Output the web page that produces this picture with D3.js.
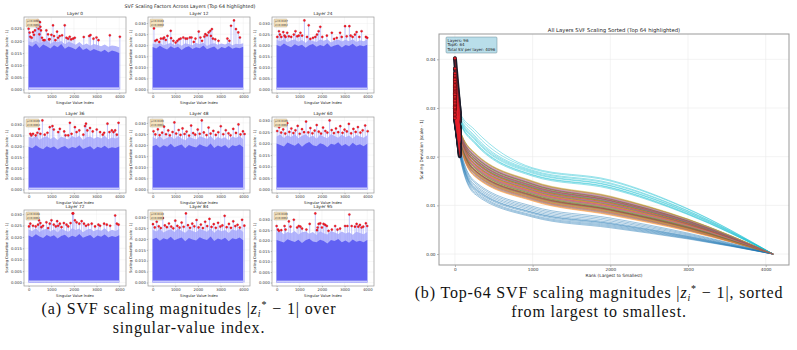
<!DOCTYPE html>
<html>
<head>
<meta charset="utf-8">
<script src="https://cdn.jsdelivr.net/npm/d3@7"></script>
<style>
  body { margin: 0; background: #fff; }
  svg { display: block; }
</style>
</head>
<body>
<svg id="fig" width="797" height="350"></svg>
<script>
// ---------- (a) per-layer scaling deviation, 3x3 grid ----------
var layerIds = [0, 12, 24, 36, 48, 60, 72, 84, 95];
var layerMean = [0.0098, 0.0104, 0.0107, 0.0109, 0.0106, 0.0105, 0.0108, 0.0110, 0.0106];
var layerStd = [0.0058, 0.0060, 0.0062, 0.0063, 0.0061, 0.0061, 0.0062, 0.0063, 0.0062];

// solid band top and light haze top, one value every 160 singular values
var binStep = 160;
var bandCore = [
  [0.0183,0.0176,0.0189,0.0171,0.0185,0.0178,0.0169,0.0182,0.0174,0.0187,0.0168,0.0177,0.0172,0.0165,0.0179,0.0163,0.0170,0.0158,0.0167,0.0161,0.0155,0.0164,0.0152,0.0160,0.0156,0.0150],
  [0.0192,0.0185,0.0198,0.0188,0.0181,0.0195,0.0187,0.0193,0.0179,0.0190,0.0196,0.0183,0.0191,0.0186,0.0199,0.0182,0.0189,0.0194,0.0180,0.0192,0.0187,0.0197,0.0184,0.0190,0.0186,0.0193],
  [0.0203,0.0196,0.0209,0.0199,0.0192,0.0206,0.0198,0.0204,0.0190,0.0201,0.0207,0.0194,0.0202,0.0197,0.0210,0.0193,0.0200,0.0205,0.0191,0.0203,0.0198,0.0208,0.0195,0.0201,0.0197,0.0204],
  [0.0198,0.0191,0.0205,0.0194,0.0187,0.0201,0.0193,0.0199,0.0185,0.0196,0.0202,0.0189,0.0197,0.0192,0.0205,0.0188,0.0195,0.0200,0.0186,0.0198,0.0193,0.0203,0.0190,0.0196,0.0192,0.0199],
  [0.0195,0.0202,0.0188,0.0199,0.0193,0.0206,0.0190,0.0197,0.0203,0.0186,0.0200,0.0194,0.0189,0.0204,0.0196,0.0191,0.0207,0.0187,0.0198,0.0192,0.0201,0.0185,0.0199,0.0195,0.0203,0.0190],
  [0.0201,0.0194,0.0188,0.0205,0.0197,0.0191,0.0203,0.0186,0.0199,0.0207,0.0193,0.0189,0.0202,0.0196,0.0184,0.0200,0.0195,0.0206,0.0190,0.0198,0.0187,0.0204,0.0192,0.0197,0.0189,0.0200],
  [0.0206,0.0199,0.0212,0.0202,0.0195,0.0209,0.0201,0.0207,0.0193,0.0204,0.0210,0.0197,0.0205,0.0200,0.0213,0.0196,0.0203,0.0208,0.0194,0.0206,0.0201,0.0211,0.0198,0.0204,0.0200,0.0207],
  [0.0199,0.0206,0.0192,0.0203,0.0197,0.0210,0.0194,0.0201,0.0207,0.0190,0.0204,0.0198,0.0193,0.0208,0.0200,0.0195,0.0211,0.0191,0.0202,0.0196,0.0205,0.0189,0.0203,0.0199,0.0207,0.0194],
  [0.0203,0.0197,0.0191,0.0207,0.0200,0.0194,0.0205,0.0189,0.0202,0.0209,0.0196,0.0192,0.0204,0.0198,0.0187,0.0203,0.0199,0.0208,0.0193,0.0201,0.0190,0.0206,0.0195,0.0200,0.0192,0.0203]
];
var bandPeak = [
  [0.0199,0.0193,0.0201,0.0190,0.0197,0.0202,0.0188,0.0198,0.0194,0.0200,0.0186,0.0196,0.0191,0.0184,0.0195,0.0182,0.0189,0.0180,0.0187,0.0183,0.0178,0.0185,0.0176,0.0181,0.0179,0.0174],
  [0.0208,0.0203,0.0211,0.0199,0.0206,0.0210,0.0201,0.0207,0.0198,0.0209,0.0204,0.0200,0.0210,0.0205,0.0211,0.0197,0.0206,0.0209,0.0202,0.0208,0.0203,0.0211,0.0200,0.0207,0.0204,0.0209],
  [0.0226,0.0219,0.0229,0.0215,0.0224,0.0228,0.0217,0.0225,0.0213,0.0227,0.0221,0.0216,0.0228,0.0222,0.0229,0.0214,0.0223,0.0227,0.0218,0.0226,0.0220,0.0229,0.0216,0.0224,0.0219,0.0227],
  [0.0244,0.0236,0.0249,0.0231,0.0241,0.0247,0.0234,0.0243,0.0229,0.0246,0.0238,0.0232,0.0248,0.0240,0.0249,0.0230,0.0242,0.0246,0.0235,0.0244,0.0237,0.0249,0.0233,0.0241,0.0236,0.0245],
  [0.0236,0.0228,0.0241,0.0224,0.0233,0.0239,0.0226,0.0242,0.0230,0.0222,0.0238,0.0231,0.0225,0.0240,0.0234,0.0227,0.0242,0.0223,0.0237,0.0229,0.0235,0.0221,0.0239,0.0232,0.0241,0.0226],
  [0.0231,0.0240,0.0225,0.0237,0.0229,0.0242,0.0223,0.0234,0.0241,0.0227,0.0236,0.0221,0.0239,0.0230,0.0224,0.0242,0.0233,0.0226,0.0240,0.0228,0.0235,0.0222,0.0238,0.0231,0.0226,0.0237],
  [0.0233,0.0226,0.0238,0.0222,0.0231,0.0236,0.0224,0.0234,0.0220,0.0237,0.0228,0.0223,0.0238,0.0230,0.0237,0.0221,0.0232,0.0236,0.0225,0.0233,0.0227,0.0238,0.0223,0.0231,0.0226,0.0235],
  [0.0242,0.0234,0.0247,0.0230,0.0239,0.0245,0.0232,0.0248,0.0236,0.0228,0.0244,0.0237,0.0231,0.0246,0.0240,0.0233,0.0248,0.0229,0.0243,0.0235,0.0241,0.0227,0.0245,0.0238,0.0247,0.0232],
  [0.0238,0.0245,0.0231,0.0242,0.0235,0.0246,0.0229,0.0240,0.0244,0.0233,0.0241,0.0227,0.0245,0.0236,0.0230,0.0246,0.0239,0.0232,0.0244,0.0234,0.0240,0.0228,0.0243,0.0237,0.0231,0.0242]
];

// highlighted largest deviations: [singular value index, |scale - 1|]
var topPoints = [
  [[0,0.0250],[44,0.0234],[74,0.0217],[133,0.0213],[192,0.0236],[236,0.0225],[280,0.0243],[339,0.0261],[384,0.0284],[443,0.0250],[472,0.0227],[502,0.0277],[517,0.0258],[546,0.0243],[590,0.0213],[649,0.0203],[708,0.0203],[782,0.0243],[856,0.0227],[900,0.0206],[930,0.0207],[1004,0.0225],[1077,0.0264],[1122,0.0220],[1181,0.0203],[1255,0.0238],[1299,0.0213],[1373,0.0220],[1476,0.0223],[1594,0.0264],[1668,0.0213],[1742,0.0209],[1815,0.0217],[1875,0.0206],[1963,0.0209],[2037,0.0213],[2435,0.0216],[2672,0.0220],[2731,0.0224],[2863,0.0209],[2996,0.0214],[3085,0.0203],[3587,0.0223],[4030,0.0217]],
  [[58,0.0276],[116,0.0220],[189,0.0224],[291,0.0215],[364,0.0230],[465,0.0230],[509,0.0235],[582,0.0224],[655,0.0242],[800,0.0265],[815,0.0232],[916,0.0220],[1018,0.0212],[1091,0.0220],[1164,0.0227],[1236,0.0230],[1353,0.0235],[1455,0.0230],[1527,0.0230],[1644,0.0235],[1716,0.0235],[1818,0.0215],[1891,0.0230],[2036,0.0262],[2109,0.0235],[2182,0.0220],[2284,0.0239],[2327,0.0250],[2400,0.0245],[2473,0.0258],[2545,0.0265],[2575,0.0242],[2618,0.0273],[2662,0.0230],[2764,0.0227],[2909,0.0220],[3302,0.0230],[3389,0.0220],[3462,0.0288],[3593,0.0312],[3680,0.0273],[3782,0.0258],[3855,0.0235]],
  [[29,0.0239],[102,0.0265],[146,0.0250],[204,0.0239],[292,0.0261],[350,0.0245],[394,0.0239],[467,0.0258],[540,0.0242],[642,0.0239],[759,0.0250],[832,0.0265],[905,0.0242],[978,0.0245],[1051,0.0258],[1124,0.0245],[1226,0.0314],[1343,0.0239],[1416,0.0292],[1489,0.0230],[1606,0.0235],[1708,0.0239],[1781,0.0250],[1854,0.0265],[1927,0.0285],[2015,0.0239],[2219,0.0245],[2438,0.0258],[2540,0.0230],[2657,0.0235],[2803,0.0258],[2876,0.0239],[3022,0.0288],[3095,0.0242],[3212,0.0288],[3270,0.0245],[3358,0.0239],[3460,0.0250],[3533,0.0261],[3650,0.0239],[3752,0.0265],[3942,0.0239],[4000,0.0235]],
  [[74,0.0258],[119,0.0251],[193,0.0258],[311,0.0251],[385,0.0263],[459,0.0281],[519,0.0258],[607,0.0320],[711,0.0254],[830,0.0263],[933,0.0289],[1052,0.0294],[1111,0.0278],[1304,0.0266],[1378,0.0281],[1570,0.0269],[1630,0.0251],[1748,0.0251],[1822,0.0309],[1896,0.0258],[2044,0.0289],[2119,0.0266],[2237,0.0274],[2415,0.0254],[2489,0.0294],[2533,0.0305],[2593,0.0274],[2711,0.0285],[2830,0.0269],[3007,0.0278],[3156,0.0266],[3274,0.0254],[3333,0.0263],[3481,0.0305],[3570,0.0266],[3674,0.0274],[3748,0.0266],[3822,0.0274],[3896,0.0254],[3970,0.0309]],
  [[40,0.0262],[120,0.0248],[230,0.0271],[310,0.0245],[420,0.0256],[505,0.0283],[590,0.0249],[690,0.0266],[760,0.0244],[880,0.0259],[960,0.0302],[1040,0.0252],[1150,0.0268],[1230,0.0246],[1320,0.0275],[1410,0.0250],[1500,0.0261],[1610,0.0243],[1700,0.0288],[1790,0.0254],[1880,0.0247],[1990,0.0270],[2080,0.0251],[2170,0.0311],[2260,0.0257],[2380,0.0245],[2470,0.0279],[2560,0.0252],[2680,0.0264],[2790,0.0246],[2900,0.0258],[3010,0.0285],[3120,0.0249],[3230,0.0267],[3350,0.0253],[3440,0.0244],[3560,0.0273],[3680,0.0255],[3790,0.0293],[3880,0.0248],[3990,0.0262],[4060,0.0250]],
  [[25,0.0255],[110,0.0271],[200,0.0248],[290,0.0262],[380,0.0244],[470,0.0289],[560,0.0251],[650,0.0266],[740,0.0246],[830,0.0258],[930,0.0277],[1020,0.0243],[1120,0.0263],[1210,0.0250],[1300,0.0296],[1400,0.0249],[1490,0.0268],[1580,0.0245],[1680,0.0257],[1770,0.0281],[1860,0.0252],[1960,0.0244],[2050,0.0270],[2150,0.0255],[2240,0.0248],[2340,0.0301],[2430,0.0259],[2530,0.0246],[2620,0.0266],[2720,0.0250],[2810,0.0276],[2910,0.0247],[3000,0.0261],[3100,0.0253],[3190,0.0286],[3290,0.0245],[3390,0.0264],[3490,0.0251],[3590,0.0272],[3700,0.0248],[3800,0.0258],[3910,0.0279],[4020,0.0254]],
  [[15,0.0246],[74,0.0258],[193,0.0249],[311,0.0246],[415,0.0254],[459,0.0273],[519,0.0261],[563,0.0243],[637,0.0249],[785,0.0264],[859,0.0239],[933,0.0258],[1007,0.0273],[1111,0.0254],[1200,0.0246],[1259,0.0269],[1304,0.0249],[1378,0.0258],[1452,0.0243],[1556,0.0261],[1674,0.0254],[1748,0.0246],[1852,0.0261],[1941,0.0303],[1970,0.0303],[2044,0.0273],[2119,0.0264],[2237,0.0258],[2341,0.0269],[2444,0.0258],[2533,0.0249],[2637,0.0254],[2785,0.0258],[2933,0.0246],[3081,0.0254],[3156,0.0249],[3333,0.0258],[3452,0.0254],[3600,0.0249],[3822,0.0294],[3896,0.0258],[3970,0.0254]],
  [[15,0.0268],[95,0.0253],[180,0.0279],[270,0.0258],[360,0.0250],[450,0.0296],[540,0.0262],[630,0.0254],[720,0.0271],[820,0.0257],[910,0.0249],[1000,0.0284],[1090,0.0260],[1190,0.0252],[1280,0.0275],[1370,0.0256],[1470,0.0317],[1560,0.0263],[1650,0.0251],[1750,0.0270],[1840,0.0258],[1940,0.0287],[2030,0.0253],[2130,0.0266],[2220,0.0250],[2320,0.0279],[2410,0.0259],[2510,0.0292],[2600,0.0255],[2700,0.0268],[2790,0.0251],[2890,0.0274],[2990,0.0257],[3080,0.0262],[3180,0.0306],[3270,0.0254],[3370,0.0269],[3460,0.0251],[3560,0.0281],[3650,0.0259],[3750,0.0265],[3850,0.0252],[3950,0.0288],[4050,0.0261]],
  [[0,0.0270],[58,0.0253],[102,0.0247],[204,0.0250],[350,0.0270],[394,0.0253],[540,0.0292],[613,0.0267],[759,0.0300],[905,0.0263],[978,0.0270],[1051,0.0267],[1124,0.0258],[1314,0.0253],[1460,0.0280],[1708,0.0330],[1781,0.0250],[1810,0.0263],[1854,0.0280],[1927,0.0283],[2000,0.0263],[2073,0.0280],[2146,0.0275],[2219,0.0270],[2292,0.0247],[2438,0.0253],[2584,0.0270],[2686,0.0253],[2803,0.0258],[3022,0.0270],[3124,0.0270],[3212,0.0325],[3314,0.0270],[3460,0.0267],[3533,0.0280],[3606,0.0267],[3679,0.0275],[3752,0.0263],[3825,0.0267],[3942,0.0283],[4000,0.0270]]
];

// ---------- (b) sorted curves of all 96 layers, read at a few ranks ----------
var rankKnots = [0, 63, 250, 1000, 2000, 3000, 4095];
var sortedAt0 = [
  0.0285,0.0312,0.0298,0.0335,0.0301,0.0322,0.0309,0.0346,0.0318,0.0362,
  0.0296,0.0327,0.0314,0.0305,0.0339,0.0316,0.0330,0.0311,0.0352,0.0349,
  0.0281,0.0303,0.0342,0.0320,0.0308,0.0356,0.0300,0.0331,0.0324,0.0371,
  0.0291,0.0319,0.0306,0.0313,0.0329,0.0302,0.0337,0.0315,0.0343,0.0402,
  0.0302,0.0308,0.0325,0.0351,0.0299,0.0333,0.0296,0.0360,0.0321,0.0358,
  0.0288,0.0331,0.0311,0.0304,0.0345,0.0307,0.0318,0.0326,0.0310,0.0366,
  0.0279,0.0300,0.0336,0.0317,0.0314,0.0348,0.0305,0.0323,0.0339,0.0354,
  0.0294,0.0316,0.0303,0.0309,0.0332,0.0319,0.0298,0.0340,0.0328,0.0381,
  0.0300,0.0306,0.0321,0.0344,0.0303,0.0328,0.0313,0.0307,0.0347,0.0359,
  0.0286,0.0323,0.0310,0.0328,0.0315,0.0301];
var sortedAt63 = [
  0.0206,0.0234,0.0250,0.0239,0.0244,0.0229,0.0254,0.0241,0.0248,0.0278,
  0.0212,0.0227,0.0238,0.0255,0.0234,0.0246,0.0241,0.0251,0.0236,0.0283,
  0.0216,0.0243,0.0231,0.0247,0.0252,0.0237,0.0234,0.0245,0.0256,0.0274,
  0.0203,0.0236,0.0248,0.0232,0.0240,0.0255,0.0244,0.0229,0.0250,0.0288,
  0.0219,0.0230,0.0242,0.0252,0.0235,0.0240,0.0249,0.0238,0.0246,0.0271,
  0.0209,0.0246,0.0233,0.0241,0.0250,0.0232,0.0238,0.0253,0.0242,0.0280,
  0.0214,0.0228,0.0251,0.0236,0.0243,0.0248,0.0232,0.0247,0.0238,0.0276,
  0.0201,0.0239,0.0235,0.0249,0.0230,0.0243,0.0252,0.0234,0.0255,0.0291,
  0.0222,0.0232,0.0246,0.0234,0.0248,0.0252,0.0240,0.0243,0.0233,0.0273,
  0.0211,0.0241,0.0237,0.0245,0.0239,0.0235];
var sortedAt250 = [
  0.0130,0.0171,0.0198,0.0180,0.0189,0.0163,0.0205,0.0184,0.0195,0.0238,
  0.0137,0.0160,0.0179,0.0208,0.0171,0.0192,0.0183,0.0201,0.0174,0.0244,
  0.0143,0.0186,0.0166,0.0193,0.0203,0.0177,0.0172,0.0190,0.0209,0.0232,
  0.0127,0.0175,0.0196,0.0168,0.0181,0.0207,0.0189,0.0162,0.0199,0.0250,
  0.0147,0.0165,0.0185,0.0202,0.0173,0.0181,0.0197,0.0178,0.0191,0.0228,
  0.0133,0.0191,0.0169,0.0183,0.0198,0.0167,0.0178,0.0204,0.0185,0.0241,
  0.0140,0.0161,0.0201,0.0174,0.0187,0.0196,0.0168,0.0193,0.0179,0.0236,
  0.0124,0.0180,0.0173,0.0197,0.0165,0.0186,0.0203,0.0171,0.0207,0.0256,
  0.0150,0.0167,0.0192,0.0172,0.0195,0.0202,0.0181,0.0187,0.0169,0.0230,
  0.0135,0.0184,0.0177,0.0190,0.0180,0.0173];
var sortedAt1000 = [
  0.0080,0.0118,0.0141,0.0126,0.0133,0.0112,0.0147,0.0129,0.0138,0.0168,
  0.0086,0.0109,0.0125,0.0149,0.0118,0.0136,0.0128,0.0143,0.0121,0.0172,
  0.0092,0.0131,0.0114,0.0137,0.0145,0.0123,0.0119,0.0134,0.0150,0.0163,
  0.0078,0.0122,0.0139,0.0116,0.0127,0.0148,0.0133,0.0111,0.0142,0.0175,
  0.0095,0.0113,0.0130,0.0144,0.0120,0.0127,0.0140,0.0124,0.0135,0.0160,
  0.0083,0.0135,0.0117,0.0128,0.0141,0.0115,0.0124,0.0146,0.0130,0.0170,
  0.0089,0.0110,0.0143,0.0121,0.0132,0.0139,0.0116,0.0137,0.0125,0.0166,
  0.0076,0.0126,0.0120,0.0140,0.0113,0.0131,0.0145,0.0118,0.0148,0.0177,
  0.0098,0.0115,0.0136,0.0119,0.0138,0.0144,0.0127,0.0132,0.0117,0.0162,
  0.0085,0.0129,0.0123,0.0134,0.0126,0.0120];
var sortedAt2000 = [
  0.0058,0.0089,0.0110,0.0096,0.0103,0.0083,0.0116,0.0099,0.0108,0.0141,
  0.0063,0.0080,0.0095,0.0118,0.0089,0.0106,0.0098,0.0112,0.0091,0.0146,
  0.0068,0.0101,0.0085,0.0107,0.0114,0.0093,0.0090,0.0104,0.0119,0.0137,
  0.0056,0.0092,0.0109,0.0087,0.0097,0.0117,0.0103,0.0082,0.0111,0.0150,
  0.0071,0.0084,0.0100,0.0113,0.0091,0.0097,0.0110,0.0094,0.0105,0.0134,
  0.0060,0.0105,0.0088,0.0098,0.0110,0.0086,0.0094,0.0115,0.0100,0.0144,
  0.0065,0.0081,0.0112,0.0091,0.0102,0.0109,0.0087,0.0107,0.0095,0.0140,
  0.0054,0.0096,0.0091,0.0110,0.0084,0.0101,0.0114,0.0089,0.0117,0.0152,
  0.0074,0.0086,0.0106,0.0090,0.0108,0.0113,0.0097,0.0102,0.0088,0.0136,
  0.0062,0.0099,0.0093,0.0104,0.0096,0.0091];
var sortedAt3000 = [
  0.0033,0.0053,0.0067,0.0058,0.0062,0.0049,0.0070,0.0059,0.0065,0.0086,
  0.0036,0.0047,0.0057,0.0071,0.0053,0.0064,0.0059,0.0068,0.0055,0.0089,
  0.0039,0.0061,0.0050,0.0064,0.0069,0.0056,0.0053,0.0062,0.0072,0.0083,
  0.0032,0.0055,0.0065,0.0052,0.0058,0.0071,0.0062,0.0049,0.0067,0.0092,
  0.0041,0.0050,0.0060,0.0068,0.0054,0.0058,0.0066,0.0056,0.0063,0.0081,
  0.0034,0.0063,0.0052,0.0059,0.0067,0.0051,0.0056,0.0070,0.0060,0.0088,
  0.0037,0.0048,0.0068,0.0055,0.0061,0.0065,0.0052,0.0064,0.0057,0.0085,
  0.0031,0.0058,0.0054,0.0066,0.0050,0.0061,0.0069,0.0053,0.0071,0.0093,
  0.0043,0.0051,0.0064,0.0053,0.0065,0.0068,0.0058,0.0061,0.0052,0.0082,
  0.0035,0.0059,0.0056,0.0062,0.0058,0.0054];
var sortedAtLast = 0.0;
var topK = 64, totalSV = 4096;

var sans = "'DejaVu Sans', sans-serif";
var serif = "'Liberation Serif', 'Times New Roman', serif";
var svg = d3.select("#fig");

function styleAxis(g, fs) {
  g.attr("font-size", fs).attr("font-family", sans);
  g.select(".domain").remove();
  g.selectAll(".tick line").attr("stroke", "#444").attr("stroke-width", 0.4);
  g.selectAll(".tick text").attr("fill", "#333");
}

// ---------- panel (a) ----------
svg.append("text")
  .attr("x", 190).attr("y", 8)
  .attr("text-anchor", "middle")
  .attr("font-family", sans).attr("font-size", 4.8).attr("fill", "#222")
  .text("SVF Scaling Factors Across Layers (Top 64 highlighted)");

var colX = [24, 148, 272], rowY = [17, 117, 210];
var pw = 102, ph = 76;

layerIds.forEach(function (layer, k) {
  var x0 = colX[k % 3], y0 = rowY[Math.floor(k / 3)];
  var g = svg.append("g").attr("transform", "translate(" + x0 + "," + y0 + ")");
  var pts = topPoints[k];
  var ymax = d3.max(pts, function (d) { return d[1]; });

  var x = d3.scaleLinear().domain([-205, 4300]).range([0, pw]);
  var y = d3.scaleLinear().domain([-0.05 * ymax, 1.05 * ymax]).range([ph, 0]);
  var yTicks = y.ticks(7).filter(function (t) { return t >= 0; });
  var xTicks = [0, 1000, 2000, 3000, 4000];

  // grid
  g.selectAll(".gx").data(xTicks).enter().append("line")
    .attr("x1", x).attr("x2", x).attr("y1", 0).attr("y2", ph)
    .attr("stroke", "#ececec").attr("stroke-width", 0.4);
  g.selectAll(".gy").data(yTicks).enter().append("line")
    .attr("x1", 0).attr("x2", pw).attr("y1", y).attr("y2", y)
    .attr("stroke", "#ececec").attr("stroke-width", 0.4);

  var bandX = function (d, i) { return x(i * binStep); };

  // light haze of the spikes
  g.append("path").datum(bandPeak[k])
    .attr("d", d3.area().x(bandX).y0(y(0)).y1(function (d) { return y(d); }))
    .attr("fill", "#b4b6fc");
  g.selectAll(".sp").data(pts).enter().append("line")
    .attr("x1", function (d) { return x(d[0]); })
    .attr("x2", function (d) { return x(d[0]); })
    .attr("y1", y(0)).attr("y2", function (d) { return y(d[1]); })
    .attr("stroke", "#a9abfb").attr("stroke-width", 0.7);

  // dense band
  g.append("path").datum(bandCore[k])
    .attr("d", d3.area().x(bandX).y0(y(0)).y1(function (d) { return y(d); }))
    .attr("fill", "#6161f3");
  g.append("rect")
    .attr("x", x(0)).attr("width", x((bandCore[k].length - 1) * binStep) - x(0))
    .attr("y", y(0.0009)).attr("height", y(0) - y(0.0009))
    .attr("fill", "#c9cafd");

  // top-64 markers
  g.selectAll(".tp").data(pts).enter().append("circle")
    .attr("cx", function (d) { return x(d[0]); })
    .attr("cy", function (d) { return y(d[1]); })
    .attr("r", 1.1)
    .attr("fill", "#ff1a1a").attr("stroke", "#a0002a").attr("stroke-width", 0.3);

  // axes
  var ax = g.append("g").attr("transform", "translate(0," + ph + ")")
    .call(d3.axisBottom(x).tickValues(xTicks).tickFormat(d3.format("d")).tickSize(1.2).tickPadding(1));
  styleAxis(ax, 3.8);
  var ay = g.append("g")
    .call(d3.axisLeft(y).tickValues(yTicks).tickFormat(d3.format(".3f")).tickSize(1.2).tickPadding(1));
  styleAxis(ay, 3.8);

  g.append("rect").attr("width", pw).attr("height", ph)
    .attr("fill", "none").attr("stroke", "#999").attr("stroke-width", 0.7);

  // stats box
  g.append("rect").attr("x", 2).attr("y", 2).attr("width", 13).attr("height", 8)
    .attr("rx", 0.8).attr("fill", "#f5deb3").attr("fill-opacity", 0.85)
    .attr("stroke", "#8a7a60").attr("stroke-width", 0.3);
  g.append("text").attr("x", 3).attr("y", 5.3)
    .attr("font-family", sans).attr("font-size", 2.6).attr("fill", "#333")
    .text("μ=" + layerMean[k].toFixed(4));
  g.append("text").attr("x", 3).attr("y", 8.6)
    .attr("font-family", sans).attr("font-size", 2.6).attr("fill", "#333")
    .text("σ=" + layerStd[k].toFixed(4));

  // labels
  g.append("text").attr("x", pw / 2).attr("y", -2.2)
    .attr("text-anchor", "middle").attr("font-family", sans)
    .attr("font-size", 4.3).attr("fill", "#222")
    .text("Layer " + layer);
  g.append("text").attr("x", pw / 2).attr("y", ph + 10.5)
    .attr("text-anchor", "middle").attr("font-family", sans)
    .attr("font-size", 3.7).attr("fill", "#222")
    .text("Singular Value Index");
  g.append("text")
    .attr("transform", "translate(-16," + ph / 2 + ") rotate(-90)")
    .attr("text-anchor", "middle").attr("font-family", sans)
    .attr("font-size", 3.6).attr("fill", "#222")
    .text("Scaling Deviation |scale - 1|");
});

// ---------- panel (b) ----------
var bx0 = 439, by0 = 34, bw = 350, bh = 231;
var gb = svg.append("g").attr("transform", "translate(" + bx0 + "," + by0 + ")");
var xb = d3.scaleLinear().domain([-205, 4300]).range([0, bw]);
var yb = d3.scaleLinear().domain([-0.00225, 0.0452]).range([bh, 0]);
var xbTicks = [0, 1000, 2000, 3000, 4000];
var ybTicks = [0, 0.01, 0.02, 0.03, 0.04];

gb.selectAll(".gx").data(xbTicks).enter().append("line")
  .attr("x1", xb).attr("x2", xb).attr("y1", 0).attr("y2", bh)
  .attr("stroke", "#ebebeb").attr("stroke-width", 0.6);
gb.selectAll(".gy").data(ybTicks).enter().append("line")
  .attr("x1", 0).attr("x2", bw).attr("y1", yb).attr("y2", yb)
  .attr("stroke", "#ebebeb").attr("stroke-width", 0.6);

var curves = sortedAt0.map(function (v, i) {
  var vals = [v, sortedAt63[i], sortedAt250[i], sortedAt1000[i], sortedAt2000[i], sortedAt3000[i], sortedAtLast];
  return vals.map(function (val, j) { return [rankKnots[j], val]; });
});
var colors = d3.schemeCategory10;
var line = d3.line()
  .x(function (d) { return xb(d[0]); })
  .y(function (d) { return yb(d[1]); })
  .curve(d3.curveMonotoneX);

gb.selectAll(".curve").data(curves).enter().append("path")
  .attr("d", line)
  .attr("fill", "none")
  .attr("stroke", function (d, i) { return colors[i % 10]; })
  .attr("stroke-opacity", 0.75)
  .attr("stroke-width", 0.6);

// highlighted top-64 ranks
var headLine = d3.line()
  .x(function (d) { return xb(d[0]); })
  .y(function (d) { return yb(d[1]); });
gb.selectAll(".headK").data(curves).enter().append("path")
  .attr("d", function (d) { return headLine(d.slice(0, 2)); })
  .attr("fill", "none").attr("stroke", "#1b1b2a").attr("stroke-width", 4)
  .attr("stroke-linecap", "round");
gb.selectAll(".headR").data(curves).enter().append("path")
  .attr("d", function (d) { return headLine(d.slice(0, 2)); })
  .attr("fill", "none").attr("stroke", "#e8202a").attr("stroke-width", 0.5)
  .attr("stroke-opacity", 0.8);
gb.selectAll(".headDot").data(curves).enter().append("circle")
  .attr("cx", function (d) { return xb(d[0][0]); })
  .attr("cy", function (d) { return yb(d[0][1]); })
  .attr("r", 1.4)
  .attr("fill", "#e8202a").attr("stroke", "#3a0a0a").attr("stroke-width", 0.4);

var axb = gb.append("g").attr("transform", "translate(0," + bh + ")")
  .call(d3.axisBottom(xb).tickValues(xbTicks).tickFormat(d3.format("d")).tickSize(2).tickPadding(1.5));
styleAxis(axb, 4.2);
var ayb = gb.append("g")
  .call(d3.axisLeft(yb).tickValues(ybTicks).tickFormat(d3.format(".2f")).tickSize(2).tickPadding(1.5));
styleAxis(ayb, 4.2);

gb.append("rect").attr("width", bw).attr("height", bh)
  .attr("fill", "none").attr("stroke", "#999").attr("stroke-width", 1);

// info box
gb.append("rect").attr("x", 7).attr("y", 3).attr("width", 51).attr("height", 16)
  .attr("rx", 1).attr("fill", "#add8e6").attr("fill-opacity", 0.85)
  .attr("stroke", "#6a8a95").attr("stroke-width", 0.5);
["Layers: " + sortedAt0.length, "TopK: " + topK, "Total SV per layer: " + totalSV]
  .forEach(function (t, i) {
    gb.append("text").attr("x", 8.5).attr("y", 7.6 + i * 4.6)
      .attr("font-family", sans).attr("font-size", 4).attr("fill", "#222").text(t);
  });

gb.append("text").attr("x", bw / 2).attr("y", -2.5)
  .attr("text-anchor", "middle").attr("font-family", sans)
  .attr("font-size", 5.3).attr("fill", "#222")
  .text("All Layers SVF Scaling Sorted (Top 64 highlighted)");
gb.append("text").attr("x", bw / 2).attr("y", bh + 12)
  .attr("text-anchor", "middle").attr("font-family", sans)
  .attr("font-size", 4.3).attr("fill", "#222")
  .text("Rank (Largest to Smallest)");
gb.append("text")
  .attr("transform", "translate(-16," + bh / 2 + ") rotate(-90)")
  .attr("text-anchor", "middle").attr("font-family", sans)
  .attr("font-size", 4.3).attr("fill", "#222")
  .text("Scaling Deviation |scale - 1|");

// ---------- captions ----------
function capText(cx, cy) {
  return svg.append("text").attr("x", cx).attr("y", cy)
    .attr("text-anchor", "middle").attr("font-family", serif)
    .attr("font-size", 16).attr("letter-spacing", 0.85).attr("fill", "#111");
}
function caption(cx, cy, before, after) {
  var t = capText(cx, cy);
  t.append("tspan").text(before + "|");
  t.append("tspan").attr("font-style", "italic").text("z");
  t.append("tspan").attr("font-size", 10).attr("font-style", "italic").attr("dy", 3).text("i");
  t.append("tspan").attr("font-size", 10).attr("dy", -9).text("*");
  t.append("tspan").attr("dy", 6).text(after);
}
caption(189, 313.5, "(a) SVF scaling magnitudes ", " \u2212 1| over");
capText(189, 332.5).text("singular-value index.");
caption(599, 297.5, "(b) Top-64 SVF scaling magnitudes ", " \u2212 1|, sorted");
capText(599, 316.5).text("from largest to smallest.");
</script>
</body>
</html>
